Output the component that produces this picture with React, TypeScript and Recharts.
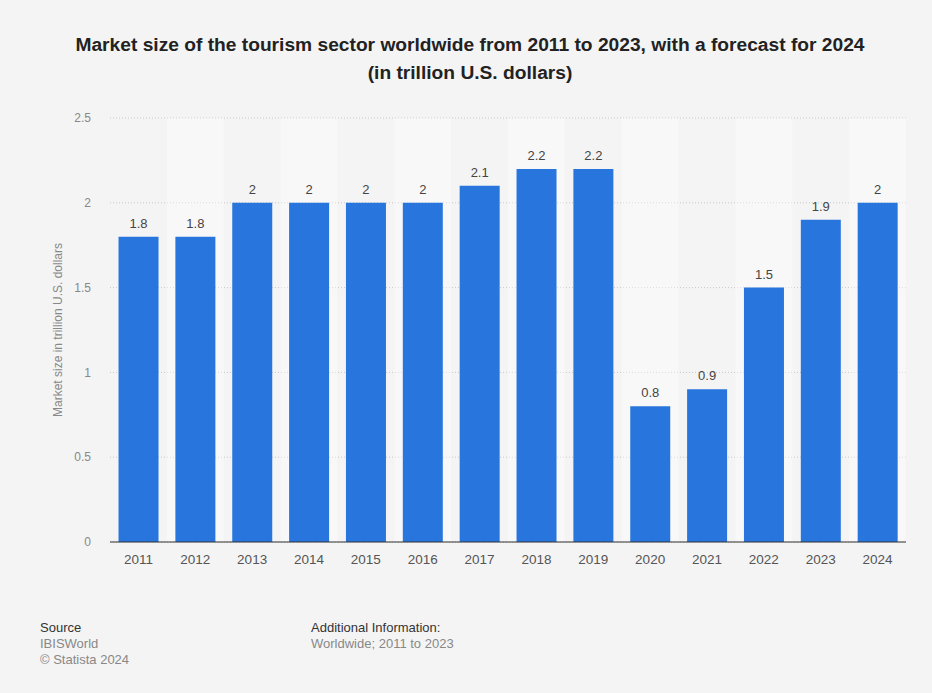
import {
  Bar,
  BarChart,
  CartesianGrid,
  LabelList,
  ReferenceArea,
  XAxis,
  YAxis,
} from "recharts";

const years = [
  "2011", "2012", "2013", "2014", "2015", "2016", "2017",
  "2018", "2019", "2020", "2021", "2022", "2023", "2024",
];
const marketSize = [1.8, 1.8, 2, 2, 2, 2, 2.1, 2.2, 2.2, 0.8, 0.9, 1.5, 1.9, 2];
const yTicks = [0, 0.5, 1, 1.5, 2, 2.5];

const FONT = '"Liberation Sans", Arial, Helvetica, sans-serif';

const chartData = years.map((year, i) => ({ year, value: marketSize[i] }));

function YLabel({ viewBox }: any) {
  const cx = viewBox.x + 18;
  const cy = viewBox.y + viewBox.height / 2;
  return (
    <text
      x={cx}
      y={cy}
      transform={`rotate(-90, ${cx}, ${cy})`}
      textAnchor="middle"
      dominantBaseline="central"
      fill="#888"
      fontSize={12}
      fontFamily={FONT}
    >
      Market size in trillion U.S. dollars
    </text>
  );
}

function App() {
  return (
    <div
      style={{
        position: "absolute",
        left: 0,
        top: 0,
        width: 932,
        height: 693,
        background: "#f4f4f4",
        fontFamily: FONT,
        overflow: "hidden",
      }}
    >
      <div
        style={{
          position: "absolute",
          top: 31,
          left: 0,
          width: 940,
          textAlign: "center",
          fontWeight: "bold",
          fontSize: 19.2,
          lineHeight: "28px",
          color: "#222",
        }}
      >
        Market size of the tourism sector worldwide from 2011 to 2023, with a forecast for 2024
        <br />
        (in trillion U.S. dollars)
      </div>

      <div style={{ position: "absolute", top: 0, left: 0 }}>
        <BarChart
          width={932}
          height={693}
          data={chartData}
          margin={{ top: 118, right: 26, bottom: 121, left: 40 }}
          barCategoryGap="15%"
        >
          <CartesianGrid vertical={false} stroke="#c8c8c8" strokeDasharray="1 2" />
          {years.map((y, i) =>
            i % 2 === 1 ? (
              <ReferenceArea
                key={y}
                x1={y}
                x2={y}
                fill="#ffffff"
                fillOpacity={0.35}
                stroke="none"
                ifOverflow="extendDomain"
              />
            ) : null
          )}
          <XAxis
            dataKey="year"
            axisLine={{ stroke: "#333", strokeWidth: 1 }}
            tickLine={false}
            tickSize={0}
            tickMargin={12}
            height={30}
            tick={{ fill: "#555", fontSize: 13.5, fontFamily: FONT }}
          />
          <YAxis
            width={70}
            domain={[0, 2.5]}
            ticks={yTicks}
            axisLine={false}
            tickLine={false}
            tickSize={0}
            tickMargin={19}
            tick={{ fill: "#888", fontSize: 12, fontFamily: FONT }}
            label={<YLabel />}
          />
          <Bar dataKey="value" fill="#2876dd" isAnimationActive={false}>
            <LabelList
              dataKey="value"
              position="top"
              offset={9}
              fill="#444"
              fontSize={13}
              fontFamily={FONT}
            />
          </Bar>
        </BarChart>
      </div>

      <div style={{ position: "absolute", left: 40, top: 620, fontSize: 13, lineHeight: "16px" }}>
        <div style={{ color: "#333" }}>Source</div>
        <div style={{ color: "#888" }}>IBISWorld</div>
        <div style={{ color: "#888" }}>© Statista 2024</div>
      </div>
      <div style={{ position: "absolute", left: 311, top: 620, fontSize: 13, lineHeight: "16px" }}>
        <div style={{ color: "#333" }}>Additional Information:</div>
        <div style={{ color: "#888" }}>Worldwide; 2011 to 2023</div>
      </div>
    </div>
  );
}

export default App;
